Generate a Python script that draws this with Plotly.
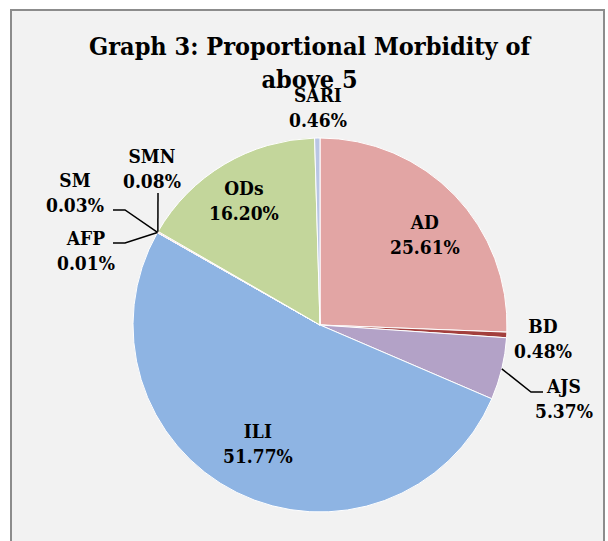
import math
import plotly.graph_objects as go

# ---- data ----
categories = ["AD", "BD", "AJS", "ILI", "AFP", "SM", "SMN", "ODs", "SARI"]
values = [25.61, 0.48, 5.37, 51.77, 0.01, 0.03, 0.08, 16.20, 0.46]
colors = ["#E2A5A4", "#A33F3D", "#B3A2C7", "#8EB4E3", "#F79646",
          "#E46C0A", "#D9534F", "#C3D69B", "#B9C6E4"]
title_text = "Graph 3: Proportional Morbidity of<br>above 5"

# ---- layout geometry (pixels) ----
W, H = 608, 541
cx, cy, R = 320, 325, 187

def px(x):
    return x / W

def py(y):
    return 1 - y / H

FONT = "DejaVu Serif Condensed, Liberation Serif, serif"
label_font = dict(family=FONT, size=19, color="black")

fig = go.Figure()
fig.add_trace(go.Pie(
    labels=categories, values=values, sort=False, direction="clockwise",
    rotation=0, marker=dict(colors=colors, line=dict(color="white", width=1)),
    textinfo="none", hoverinfo="label+percent", showlegend=False,
    domain=dict(x=[px(cx - R), px(cx + R)], y=[py(cy + R), py(cy - R)]),
))

# label positions (pixel centres of each label block)
label_pos = {
    "AD": (425, 235), "BD": (543, 338), "AJS": (564, 398), "ILI": (258, 443),
    "AFP": (86, 250), "SM": (75, 192), "SMN": (152, 169), "ODs": (244, 200),
    "SARI": (318, 107),
}
total = sum(values)
for cat, v in zip(categories, values):
    x, y = label_pos[cat]
    fig.add_annotation(x=px(x), y=py(y), xref="paper", yref="paper",
                       xanchor="center", yanchor="middle",
                       text=f"<b>{cat}</b><br><b>{v:.2f}%</b>", showarrow=False,
                       font=label_font, align="center")

# leader lines: start at slice edge (computed from data), elbow + end in pixels
def edge_point(cat):
    i = categories.index(cat)
    before = sum(values[:i])
    mid = (before + values[i] / 2) / total * 2 * math.pi
    return cx + R * math.sin(mid), cy - R * math.cos(mid)

leaders = {
    "AJS": [(531, 392), (543, 392)],
    "SM": [(125, 210), (113, 210)],
    "AFP": [(125, 243), (113, 243)],
    "SMN": [(158, 193)],
}
shapes = [dict(type="rect", xref="paper", yref="paper", x0=px(11), x1=px(604),
               y0=-0.05, y1=py(10), fillcolor="#F2F2F2",
               line=dict(color="#8C8C8C", width=2), layer="below")]
for cat, pts in leaders.items():
    sx, sy = edge_point(cat)
    path = f"M {px(sx)} {py(sy)}" + "".join(f" L {px(a)} {py(b)}" for a, b in pts)
    shapes.append(dict(type="path", xref="paper", yref="paper", path=path,
                       line=dict(color="black", width=1.5)))

fig.add_annotation(x=px(310), y=py(63), xref="paper", yref="paper",
                   xanchor="center", yanchor="middle",
                   text=f"<b>{title_text}</b>", showarrow=False,
                   font=dict(family=FONT, size=25, color="black"),
                   align="center")

fig.update_layout(width=W, height=H, margin=dict(l=0, r=0, t=0, b=0),
                  paper_bgcolor="white", plot_bgcolor="white", shapes=shapes)
fig.write_html("out.html", config={"displayModeBar": False},
               post_script="document.body.style.margin='0';document.body.style.padding='0';")
